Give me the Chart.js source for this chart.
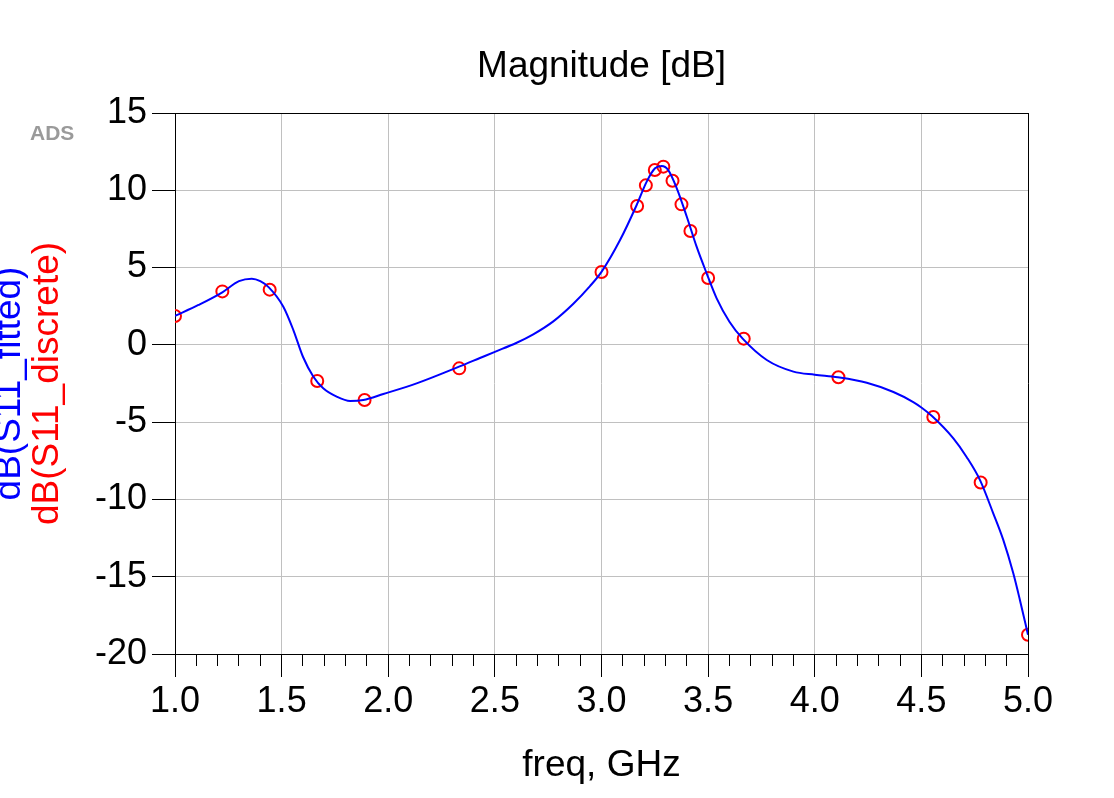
<!DOCTYPE html>
<html>
<head>
<meta charset="utf-8">
<title>Magnitude [dB]</title>
<script src="https://cdn.jsdelivr.net/npm/chart.js@4/dist/chart.umd.min.js"></script>
<style>
  html, body { margin: 0; padding: 0; background: #ffffff; }
  #grafico { display: block; }
</style>
</head>
<body>
<canvas id="grafico" width="1114" height="798"></canvas>
<script>
// ---------- DADOS ----------

// dB(S11_discrete): pontos medidos (círculos vermelhos)
var freqDiscreto = [1.0, 1.222, 1.444, 1.667, 1.889, 2.333, 3.0, 3.167, 3.208, 3.25,
  3.29, 3.333, 3.375, 3.417, 3.5, 3.667, 4.111, 4.556, 4.778, 5.0];
var dbDiscreto = [1.87, 3.46, 3.57, -2.34, -3.57, -1.52, 4.71, 8.98, 10.32, 11.31,
  11.53, 10.62, 9.09, 7.37, 4.33, 0.40, -2.10, -4.67, -8.9, -18.75];

// dB(S11_fitted): curva azul
var freqAjustado = [1.0, 1.11, 1.222, 1.30, 1.36, 1.40, 1.44, 1.508, 1.555, 1.60,
  1.649, 1.695, 1.758, 1.821, 1.883, 1.977, 2.133, 2.332, 2.43, 2.50,
  2.60, 2.68, 2.774, 2.868, 2.946, 3.0, 3.087, 3.165, 3.212, 3.251,
  3.282, 3.313, 3.353, 3.40, 3.446, 3.493, 3.54, 3.60, 3.662, 3.775,
  3.90, 4.0, 4.108, 4.244, 4.369, 4.462, 4.50, 4.551, 4.65, 4.712,
  4.775, 4.837, 4.884, 4.931, 4.962, 5.0];
var dbAjustado = [1.87, 2.58, 3.40, 4.12, 4.28, 4.12, 3.72, 2.47, 0.96, -0.77,
  -2.06, -2.81, -3.35, -3.63, -3.57, -3.18, -2.49, -1.41, -0.85, -0.45,
  0.12, 0.68, 1.52, 2.66, 3.80, 4.72, 6.78, 9.05, 10.56, 11.42,
  11.57, 11.31, 10.13, 8.29, 6.35, 4.63, 3.01, 1.5, 0.40, -0.98,
  -1.73, -1.93, -2.10, -2.45, -3.05, -3.70, -4.05, -4.62, -6.05, -7.25,
  -8.75, -10.90, -12.62, -14.78, -16.5, -18.75];

var FONTE = '"Liberation Sans", Arial, sans-serif';

function montarPontos(xs, ys) {
  var pontos = [];
  for (var i = 0; i < xs.length; i++) {
    pontos.push({ x: xs[i], y: ys[i] });
  }
  return pontos;
}

// ---------- TEXTOS E MOLDURA ----------

var pluginTextos = {
  id: "textosADS",
  afterDraw: function (chart) {
    var ctx = chart.ctx;
    var area = chart.chartArea;
    ctx.save();

    // moldura de cima e da direita
    ctx.strokeStyle = "#000000";
    ctx.lineWidth = 1;
    ctx.beginPath();
    ctx.moveTo(area.left, Math.round(area.top) + 0.5);
    ctx.lineTo(area.right, Math.round(area.top) + 0.5);
    ctx.moveTo(Math.round(area.right) + 0.5, area.top);
    ctx.lineTo(Math.round(area.right) + 0.5, area.bottom);
    ctx.stroke();

    // título
    ctx.fillStyle = "#000000";
    ctx.font = "37px " + FONTE;
    ctx.textAlign = "center";
    ctx.textBaseline = "alphabetic";
    ctx.fillText("Magnitude [dB]", (area.left + area.right) / 2, 77);

    // marca ADS
    ctx.fillStyle = "#9a9a9a";
    ctx.font = "bold 21px " + FONTE;
    ctx.textAlign = "left";
    ctx.fillText("ADS", 30, 140);

    // título do eixo y em duas cores
    var meioY = (area.top + area.bottom) / 2;
    ctx.font = "37px " + FONTE;
    ctx.textAlign = "center";

    ctx.save();
    ctx.translate(20, meioY);
    ctx.rotate(-Math.PI / 2);
    ctx.fillStyle = "#0000ff";
    ctx.fillText("dB(S11_fitted)", 0, 0);
    ctx.restore();

    ctx.save();
    ctx.translate(58, meioY);
    ctx.rotate(-Math.PI / 2);
    ctx.fillStyle = "#ff0000";
    ctx.fillText("dB(S11_discrete)", 0, 0);
    ctx.restore();

    ctx.restore();
  }
};

// ---------- GRÁFICO ----------

var ctxGrafico = document.getElementById("grafico").getContext("2d");

var grafico = new Chart(ctxGrafico, {
  type: "scatter",
  data: {
    datasets: [
      {
        label: "dB(S11_fitted)",
        data: montarPontos(freqAjustado, dbAjustado),
        showLine: true,
        borderColor: "#0000ff",
        borderWidth: 2,
        pointRadius: 0,
        cubicInterpolationMode: "monotone",
        fill: false
      },
      {
        label: "dB(S11_discrete)",
        data: montarPontos(freqDiscreto, dbDiscreto),
        showLine: false,
        pointStyle: "circle",
        pointRadius: 6,
        pointBorderWidth: 2,
        pointBorderColor: "#ff0000",
        pointBackgroundColor: "rgba(0,0,0,0)",
        borderColor: "#ff0000",
        backgroundColor: "rgba(0,0,0,0)"
      }
    ]
  },
  options: {
    responsive: false,
    animation: false,
    devicePixelRatio: 1,
    layout: {
      padding: { top: 113, right: 86, bottom: 0, left: 0 }
    },
    plugins: {
      legend: { display: false },
      tooltip: { enabled: false },
      title: { display: false }
    },
    scales: {
      x: {
        type: "linear",
        position: "bottom",
        weight: 1,
        min: 1,
        max: 5,
        ticks: {
          stepSize: 0.5,
          color: "#000000",
          padding: 3,
          font: { family: FONTE, size: 36 },
          callback: function (valor) {
            return Number(valor).toFixed(1);
          }
        },
        grid: {
          color: "#c0c0c0",
          lineWidth: 1,
          tickColor: "#000000",
          tickLength: 23
        },
        border: { color: "#000000", width: 1 },
        title: {
          display: true,
          text: "freq, GHz",
          color: "#000000",
          font: { family: FONTE, size: 37 },
          padding: { top: 0, bottom: 10 }
        },
        afterFit: function (escala) {
          escala.height = 144;
        }
      },
      xMenor: {
        type: "linear",
        position: "bottom",
        weight: 0,
        min: 1,
        max: 5,
        ticks: { stepSize: 0.1, display: false },
        grid: {
          drawOnChartArea: false,
          tickColor: "#000000",
          tickLength: 12,
          lineWidth: 1
        },
        border: { display: false },
        afterFit: function (escala) {
          escala.height = 0;
        }
      },
      y: {
        type: "linear",
        position: "left",
        min: -20,
        max: 15,
        ticks: {
          stepSize: 5,
          color: "#000000",
          padding: 5,
          font: { family: FONTE, size: 36 }
        },
        grid: {
          color: "#c0c0c0",
          lineWidth: 1,
          tickColor: "#000000",
          tickLength: 23
        },
        border: { color: "#000000", width: 1 },
        afterFit: function (escala) {
          escala.width = 175;
        }
      }
    }
  },
  plugins: [pluginTextos]
});
</script>
</body>
</html>
